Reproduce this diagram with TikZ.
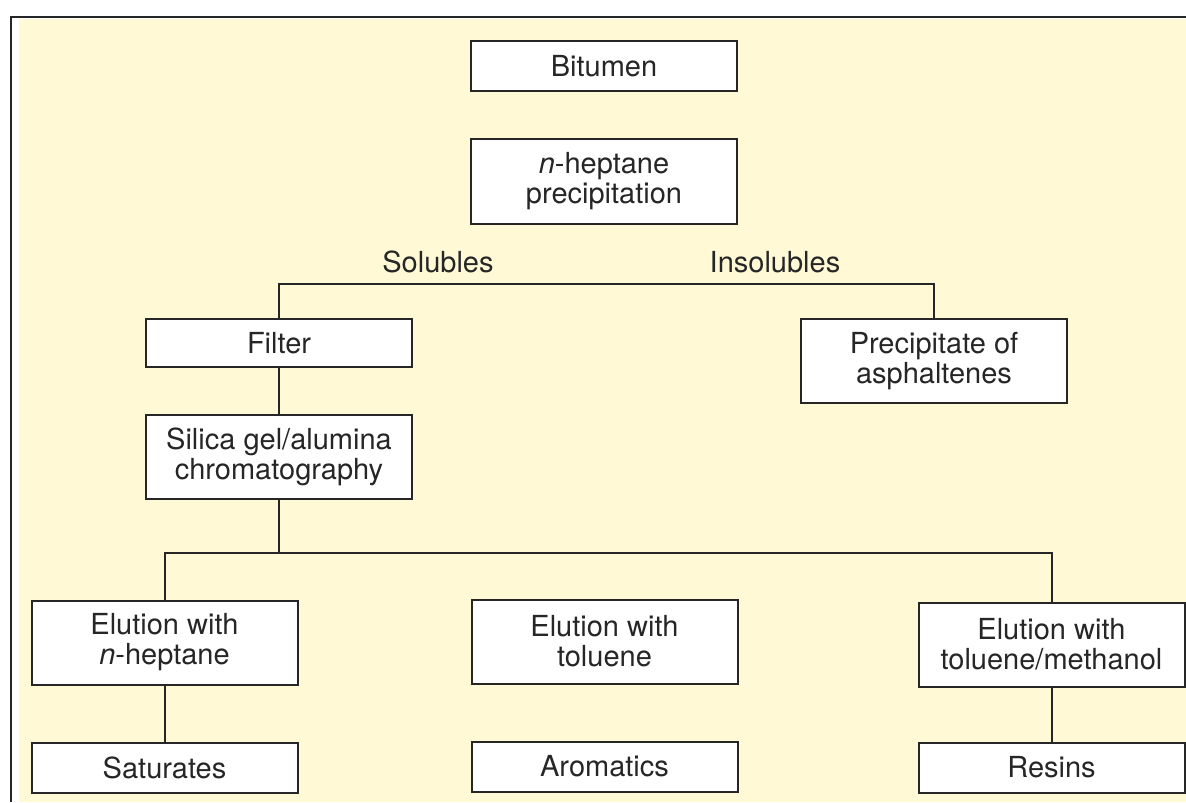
\documentclass[tikz,border=0pt]{standalone}
\usepackage{fontspec}
\setmainfont{TeX Gyre Heros}
\usepackage{tikz}
\usetikzlibrary{positioning}
\definecolor{paper}{RGB}{255,249,214}
\definecolor{ink}{RGB}{38,38,38}

\begin{document}
\begin{tikzpicture}[x=0.5pt, y=-0.5pt, line width=1pt, draw=ink,
    every node/.style={font=\fontsize{14.5}{15}\selectfont, text=ink},
    stepbox/.style={draw=ink, fill=white, align=center, inner sep=0pt,
        minimum width=133pt, minimum height=25pt},
    tallbox/.style={stepbox, minimum height=42pt}]
    \useasboundingbox (0,0) rectangle (1186,802);
    % background and frame
    \fill[paper] (19,19) rectangle (1186,802);
    \draw (1186,17) -- (11,17) -- (11,802);

    \node[stepbox] (bit) at (604,66.5) {Bitumen};
    \node[tallbox, below=23pt of bit] (hep) {\textit{n}-heptane\\precipitation};

    \node (sol) at (438,262) {Solubles};
    \node (insol) at (775,262) {Insolubles};

    \node[stepbox, minimum height=24pt] (filter) at (279,343) {Filter};
    \node[tallbox, below=23pt of filter] (silica) {Silica gel/alumina\\chromatography};
    \node[tallbox] (prec) at (934,361) {Precipitate of\\asphaltenes};

    \node[tallbox] (elhep) at (164.5,642.5) {Elution with\\\textit{n}-heptane};
    \node[tallbox] (eltol) at (604.5,641.5) {Elution with\\toluene};
    \node[tallbox] (elmeth) at (1051.5,644.5) {Elution with\\toluene/methanol};

    \node[stepbox, below=28pt of elhep] (sat) {Saturates};
    \node[stepbox, below=28pt of eltol] (arom) {Aromatics};
    \node[stepbox, below=27pt of elmeth] (res) {Resins};

    \coordinate (fork) at (604,284);
    \coordinate (fork2) at (604,553);
    \draw (filter.north) |- (fork) -| (prec.north);
    \draw (filter) -- (silica);
    \draw (silica.south) -- (silica.south |- fork2);
    \draw (elhep.north) |- (fork2) -| (elmeth.north);
    \draw (elhep) -- (sat);
    \draw (elmeth) -- (res);
\end{tikzpicture}
\end{document}
